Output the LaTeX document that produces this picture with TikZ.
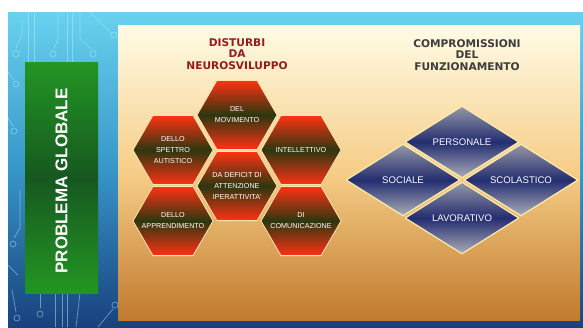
\documentclass[tikz,border=0pt]{standalone}
\usepackage{fontspec}
\setmainfont{Liberation Sans}
\newfontfamily\headfont{DejaVu Sans}
\usetikzlibrary{shapes.geometric}
\definecolor{bgtop}{RGB}{105,210,238}
\definecolor{bgmid}{RGB}{55,150,200}
\definecolor{bgbot}{RGB}{25,65,125}
\definecolor{paneltop}{RGB}{255,252,230}
\definecolor{panelmid}{RGB}{246,205,135}
\definecolor{panelbot}{RGB}{192,122,45}
\definecolor{globgreen}{RGB}{35,150,35}
\definecolor{globdark}{RGB}{22,88,32}
\definecolor{hexred}{RGB}{255,50,20}
\definecolor{hexgreen}{RGB}{45,55,15}
\definecolor{hexedge}{RGB}{255,228,175}
\definecolor{diagray}{RGB}{150,152,165}
\definecolor{dianavy}{RGB}{35,45,112}
\definecolor{diaedge}{RGB}{250,235,175}
\definecolor{distred}{RGB}{150,28,28}
\definecolor{compgray}{RGB}{60,60,60}
\definecolor{tracecol}{RGB}{170,240,255}

\begin{document}
\begin{tikzpicture}[x=1pt, y=-1pt, line cap=round, line join=round]

\tikzset{
  trace/.style={draw=tracecol, line width=0.7pt, opacity=0.5},
  hex/.style={regular polygon, regular polygon sides=6, minimum size=80pt, inner sep=0pt,
    draw=hexedge, line width=0.8pt,
    top color=hexred, bottom color=hexred, middle color=hexgreen},
  hexlab/.style={text=white, align=center, font=\fontsize{7.2}{11}\selectfont},
  dia/.style={diamond, minimum width=114pt, minimum height=72pt, inner sep=0pt,
    draw=diaedge, line width=1.2pt,
    top color=diagray, bottom color=diagray!80!white, middle color=dianavy,
    text=white, font=\fontsize{9.6}{11}\selectfont},
  ttl/.style={align=center, font=\headfont\bfseries\fontsize{10.6}{11.5}\selectfont},
}

\useasboundingbox (0,0) rectangle (583,327);

% blue board and its traces
\shade[top color=bgtop, bottom color=bgbot, middle color=bgmid] (8,12) rectangle (583,327);

\draw[trace] (28,12) -- (28,62);
\draw[trace] (34,12) -- (34,62);
\draw[trace] (67,12) -- (67,62);
\draw[trace] (72,12) -- (72,62);
\draw[trace] (22,20) -- (22,35) -- (16,48);
\draw[trace] (16,54) circle (3);
\draw[trace] (58,12) -- (58,40) -- (54,48);
\draw[trace] (53,54) circle (3);
\draw[trace] (80,12) -- (80,38) -- (91,49);
\draw[trace] (93,54) circle (3);
\draw[trace] (90,12) -- (111,33);
\draw[trace] (114,35) circle (3);
\draw[trace] (8,72) -- (14,80);
\draw[trace] (16,84) circle (3);
\draw[trace] (8,118) -- (13,126);
\draw[trace] (14,131) circle (3);
\draw[trace] (20,190) -- (20,228) -- (14,238);
\draw[trace] (13,244) circle (3);
\draw[trace] (8,265) -- (18,275);
\draw[trace] (55,293) -- (55,327);
\draw[trace] (62,293) -- (62,327);
\draw[trace] (67,293) -- (67,327);
\draw[trace] (80,293) -- (76,327);
\draw[trace] (40,293) -- (40,308);
\draw[trace] (40,314) circle (3);
\draw[trace] (12,290) -- (16,312);
\draw[trace] (17,318) circle (3);
\draw[trace] (98,327) -- (113,309);
\draw[trace] (115,305) circle (3);

% green side bar
\shade[top color=globgreen, bottom color=globgreen, middle color=globdark] (25,62) rectangle (98,293);
\node[rotate=90, text=white, font=\bfseries\fontsize{17}{20}\selectfont] (glob) at (61.5,181) {PROBLEMA GLOBALE};

% orange panel
\shade[top color=paneltop, bottom color=panelbot, middle color=panelmid] (118,25) rectangle (580,320);

% titles
\node[ttl, text=distred] (tdist) at (237,54) {DISTURBI\\DA\\NEUROSVILUPPO};
\node[ttl, text=compgray] (tcomp) at (467,55) {COMPROMISSIONI\\DEL\\FUNZIONAMENTO};

% honeycomb
\node[hex, label={[hexlab]center:DEL\\MOVIMENTO}] (mov) at (237,115) {};
\node[hex, label={[hexlab]center:DELLO\\SPETTRO\\AUTISTICO}] (aut) at (173,150) {};
\node[hex, label={[hexlab]center:INTELLETTIVO}] (int) at (301,150) {};
\node[hex, label={[hexlab]center:DA DEFICIT DI\\ATTENZIONE\\IPERATTIVITA'}] (adhd) at (237,186) {};
\node[hex, label={[hexlab]center:DELLO\\APPRENDIMENTO}] (app) at (173,221) {};
\node[hex, label={[hexlab]center:DI\\COMUNICAZIONE}] (com) at (301,221) {};

% diamonds
\node[dia] (pers) at (462,142) {PERSONALE};
\node[dia] (soc)  at (403,180) {SOCIALE};
\node[dia] (scol) at (521,180) {SCOLASTICO};
\node[dia] (lav)  at (462,218) {LAVORATIVO};

\end{tikzpicture}
\end{document}
